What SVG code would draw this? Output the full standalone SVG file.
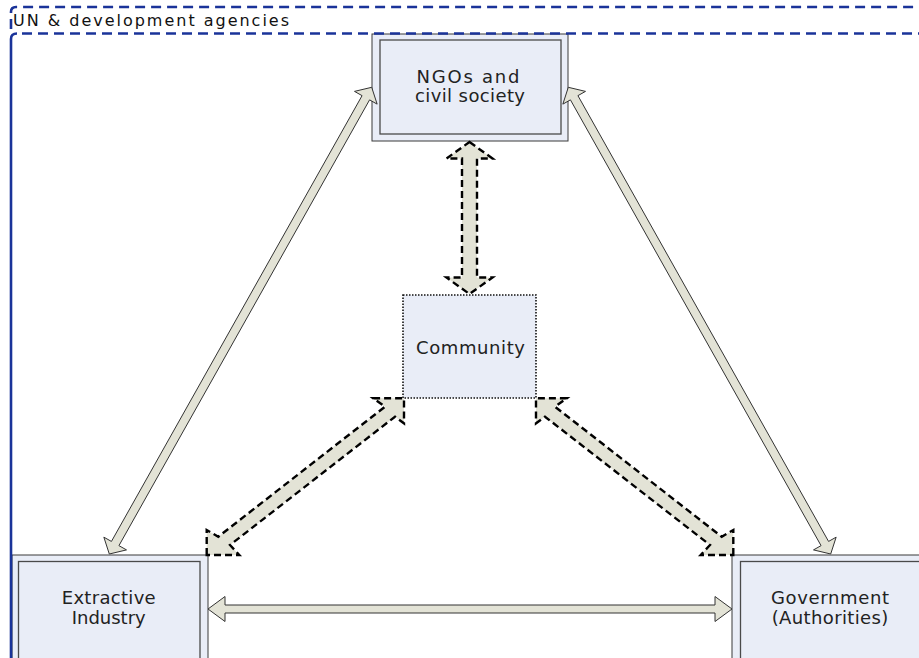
<svg xmlns="http://www.w3.org/2000/svg" width="919" height="658" viewBox="0 0 919 658">
<style>
  .outer { fill: #e9edf7; stroke: #3a3a3a; stroke-width: 1; }
  .inner { fill: #e9edf7; stroke: #4a4a4a; stroke-width: 1.3; }
  .comm { fill: #e9edf7; stroke: #111; stroke-width: 1.6; stroke-dasharray: 1.5 1.5; }
  .lbl { font-family: "DejaVu Sans", Verdana, sans-serif; font-size: 18px; fill: #222; text-anchor: middle; }
  .title { font-family: "DejaVu Sans", Verdana, sans-serif; font-size: 16px; fill: #111; }
  .thin { fill: #e3e3d6; stroke: #333; stroke-width: 1; stroke-linejoin: miter; }
  .thick { fill: #e3e3d6; stroke: #000; stroke-width: 2.4; stroke-dasharray: 7 4; stroke-linejoin: miter; }
  .frame { fill: none; stroke: #1a3399; stroke-width: 2.6; }
</style>
<rect x="0" y="0" width="919" height="658" fill="#ffffff"/>

<g id="ngos">
  <rect class="outer" x="372" y="34" width="196" height="107"/>
  <rect class="inner" x="380" y="40" width="181" height="94"/>
  <text class="lbl" x="468" y="83" textLength="103" lengthAdjust="spacing">NGOs and</text>
  <text class="lbl" x="470" y="102" textLength="110" lengthAdjust="spacing">civil society</text>
</g>

<g id="community">
  <rect class="comm" x="403" y="295" width="133" height="103"/>
  <text class="lbl" x="470.5" y="354" textLength="109" lengthAdjust="spacing">Community</text>
</g>

<g id="extractive">
  <rect class="outer" x="12" y="555" width="196" height="120"/>
  <rect class="inner" x="18.5" y="561.5" width="181.5" height="110"/>
  <text class="lbl" x="108.7" y="604" textLength="94" lengthAdjust="spacing">Extractive</text>
  <text class="lbl" x="108.7" y="624" textLength="74" lengthAdjust="spacing">Industry</text>
</g>

<g id="government">
  <rect class="outer" x="732" y="555" width="200" height="120"/>
  <rect class="inner" x="740.5" y="561.5" width="190" height="110"/>
  <text class="lbl" x="830" y="604" textLength="118" lengthAdjust="spacing">Government</text>
  <text class="lbl" x="830" y="624" textLength="116.6" lengthAdjust="spacing">(Authorities)</text>
</g>

<g id="connectors">
  <polygon class="thin" points="208,609 225,596.5 225,605 715,605 715,596.5 732,609 715,621.5 715,613 225,613 225,621.5"/>
  <polygon class="thin" points="109.3,554 126.5,549.9 118.93,545.65 369.57,99.87 377.15,104.13 371.7,87.3 354.49,91.39 362.07,95.65 111.43,541.43 103.85,537.17"/>
  <polygon class="thin" points="830.7,554 813.5,549.9 821.07,545.65 570.43,99.87 562.85,104.13 568.3,87.3 585.51,91.39 577.93,95.65 828.57,541.43 836.15,537.17"/>
  <polygon class="thick" points="469.5,142 492.5,158.5 477,158.5 477,277.5 492.5,277.5 469.5,294 446.5,277.5 462,277.5 462,158.5 446.5,158.5"/>
  <polygon class="thick" points="206.7,555 206.7,530 218.3,536.7 385,406.7 373.3,398.3 404,398.3 404,423.3 395,416.7 230,545 239.3,555"/>
  <polygon class="thick" points="733.3,555 733.3,530 721.7,536.7 555,406.7 566.7,398.3 536,398.3 536,423.3 545,416.7 710,545 700.7,555"/>
</g>

<g id="frame">
  <path class="frame" d="M 11 29 L 11 12 Q 11 7 16 7 L 919 7" stroke-dasharray="10 6"/>
  <path class="frame" d="M 11 658 L 11 39 Q 11 33.5 17 33.5"/>
  <path class="frame" d="M 22 33.5 L 919 33.5" stroke-dasharray="10 6"/>
  <text class="title" x="13" y="26" textLength="276" lengthAdjust="spacing">UN &amp; development agencies</text>
</g>
</svg>
